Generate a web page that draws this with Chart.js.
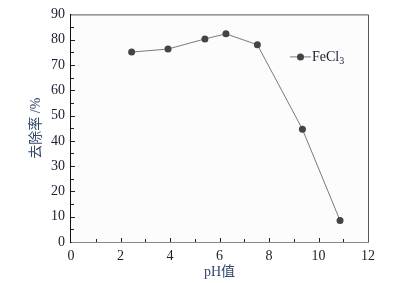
<!DOCTYPE html>
<html>
<head>
<meta charset="utf-8">
<script src="https://cdn.jsdelivr.net/npm/chart.js@4/dist/chart.umd.min.js"></script>
<style>
  html, body { margin: 0; padding: 0; background: #fff; }
  #wrap { width: 399px; height: 283px; }
</style>
</head>
<body>
<div id="wrap"><canvas id="myChart"></canvas></div>
<script>
// datos
const phValues = [2.45, 3.92, 5.41, 6.26, 7.53, 9.35, 10.87];
const removalRate = [75.1, 76.3, 80.3, 82.3, 78.0, 44.6, 8.5];
const seriesName = "FeCl₃";
const xTicks = [0, 2, 4, 6, 8, 10, 12];
const yTicks = [0, 10, 20, 30, 40, 50, 60, 70, 80, 90];

const serif = "'Liberation Serif', 'DejaVu Serif', 'Times New Roman', 'Noto Sans CJK SC', serif";
const textColor = "#1c1c30";
const titleColor = "#34486a";

// marco gris, ticks hacia adentro y leyenda dentro del area
const framePlugin = {
  id: "frame",
  beforeDatasetsDraw(chart) {
    const { ctx, chartArea: a, scales } = chart;
    ctx.save();
    ctx.fillStyle = "#fcfcfc";
    ctx.fillRect(a.left, a.top, a.right - a.left, a.bottom - a.top);
    ctx.strokeStyle = "#555";
    ctx.lineWidth = 1;
    ctx.beginPath();
    ctx.moveTo(a.left, a.top + 0.5);
    ctx.lineTo(a.right + 0.5, a.top + 0.5);
    ctx.lineTo(a.right + 0.5, a.bottom);
    ctx.stroke();

    ctx.strokeStyle = "#222";
    ctx.beginPath();
    for (let v = 0; v <= 12; v += 1) {
      const x = Math.round(scales.x.getPixelForValue(v)) + 0.5;
      if (v === 0 || v === 12) continue;
      ctx.moveTo(x, a.bottom);
      ctx.lineTo(x, a.bottom - (v % 2 === 0 ? 4 : 3));
    }
    for (let v = 5; v < 90; v += 5) {
      const y = Math.round(scales.y.getPixelForValue(v)) + 0.5;
      ctx.moveTo(a.left, y);
      ctx.lineTo(a.left + (v % 10 === 0 ? 4 : 3), y);
    }
    ctx.stroke();
    ctx.restore();
  },
  afterDraw(chart) {
    const { ctx, chartArea: a } = chart;
    const ds = chart.data.datasets[0];
    const lx = a.left + 219, ly = a.top + 42;
    ctx.save();
    ctx.strokeStyle = ds.borderColor;
    ctx.lineWidth = 1;
    ctx.beginPath();
    ctx.moveTo(lx, ly + 0.5);
    ctx.lineTo(lx + 21, ly + 0.5);
    ctx.stroke();
    ctx.fillStyle = ds.pointBackgroundColor;
    ctx.beginPath();
    ctx.arc(lx + 10.5, ly + 0.5, 3.5, 0, Math.PI * 2);
    ctx.fill();
    ctx.fillStyle = textColor;
    ctx.textBaseline = "middle";
    ctx.font = "14px " + serif;
    ctx.fillText("FeCl", lx + 22, ly + 1);
    const w = ctx.measureText("FeCl").width;
    ctx.font = "10px " + serif;
    ctx.fillText("3", lx + 22 + w, ly + 5);
    ctx.restore();
  }
};

const myChart = new Chart(document.querySelector("#myChart"), {
  type: "scatter",
  data: {
    datasets: [
      {
        label: seriesName,
        data: phValues.map((x, i) => ({ x: x, y: removalRate[i] })),
        showLine: true,
        borderColor: "#7a7a7a",
        borderWidth: 1,
        pointBackgroundColor: "#444",
        pointBorderColor: "#444",
        pointRadius: 3.5,
        pointBorderWidth: 0,
      },
    ],
  },
  options: {
    responsive: true,
    maintainAspectRatio: false,
    animation: false,
    layout: { padding: { top: 13, right: 31, left: 0, bottom: 0 } },
    plugins: {
      legend: { display: false },
      tooltip: { enabled: false },
    },
    scales: {
      x: {
        type: "linear",
        min: 0,
        max: 12,
        afterBuildTicks: (s) => { s.ticks = xTicks.map((v) => ({ value: v })); },
        afterFit: (s) => { s.height = 41; },
        grid: { display: false, drawTicks: false },
        border: { display: true, color: "#111", width: 1.5 },
        ticks: { padding: 6, color: textColor, font: { family: serif, size: 14 }, maxRotation: 0 },
        title: {
          display: true,
          text: "pH值",
          color: titleColor,
          font: { family: serif, size: 14 },
          padding: { top: 0, bottom: 2 },
        },
      },
      y: {
        min: 0,
        max: 90,
        afterBuildTicks: (s) => { s.ticks = yTicks.map((v) => ({ value: v })); },
        afterFit: (s) => { s.width = 71; },
        grid: { display: false, drawTicks: false },
        border: { display: true, color: "#111", width: 1.5 },
        ticks: { padding: 6, color: textColor, font: { family: serif, size: 14 } },
        title: {
          display: true,
          text: "去除率 /%",
          color: titleColor,
          font: { family: serif, size: 14 },
          padding: { top: 28, bottom: 0 },
        },
      },
    },
  },
  plugins: [framePlugin],
});
</script>
</body>
</html>
